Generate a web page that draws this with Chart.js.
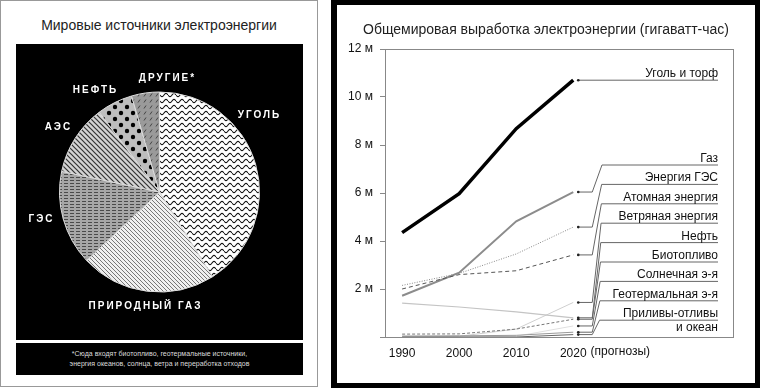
<!DOCTYPE html>
<html>
<head>
<meta charset="utf-8">
<script src="https://cdn.jsdelivr.net/npm/chart.js@4.4.1/dist/chart.umd.min.js"></script>
<style>
  body { margin: 0; width: 760px; height: 388px; position: relative; overflow: hidden; background: #fff; font-family: "Liberation Sans", Arial, sans-serif; }
  #left { position: absolute; left: 0; top: 0; width: 318px; height: 387px; box-sizing: border-box; border: 1px solid #999; background: #fff; }
  #leftTitle { position: absolute; left: 0; top: 16px; width: 316px; text-align: center; font-size: 14px; color: #222; }
  #pieBox { position: absolute; left: 15px; top: 43px; width: 287px; height: 296px; background: #000; }
  #note { position: absolute; left: 15px; top: 342px; width: 287px; height: 32px; background: #000; color: #ddd; font-size: 7px; line-height: 10px; text-align: center; padding-top: 6px; box-sizing: border-box; }
  #right { position: absolute; left: 331px; top: 0; width: 429px; height: 388px; background: #000; }
  #lineBox { position: absolute; left: 6px; top: 5px; width: 418px; height: 378px; background: #fff; }
</style>
</head>
<body>
<div id="left">
  <div id="leftTitle">Мировые источники электроэнергии</div>
  <div id="pieBox"><canvas id="pie" width="287" height="296"></canvas></div>
  <div id="note">*Сюда входят биотопливо, геотермальные источники,<br>энергия океанов, солнца, ветра и переработка отходов</div>
</div>
<div id="right">
  <div id="lineBox"><canvas id="line" width="418" height="378"></canvas></div>
</div>
<script>
// pie: shares of world electricity, %
var pieLabels = ['УГОЛЬ', 'ПРИРОДНЫЙ ГАЗ', 'ГЭС', 'АЭС', 'НЕФТЬ', 'ДРУГИЕ*'];
var pieShares = [41.1, 21.9, 15.3, 11.4, 5.8, 4.5];

// line chart: world generation, millions of GWh
var chartTitle = 'Общемировая выработка электроэнергии (гигаватт-час)';
var years = [1990, 2000, 2010, 2020];
var seriesNames = ['Уголь и торф', 'Газ', 'Энергия ГЭС', 'Атомная энергия', 'Ветряная энергия',
  'Нефть', 'Биотопливо', 'Солнечная э-я', 'Геотермальная э-я', 'Приливы-отливы и океан'];
var coal = [4.35, 5.97, 8.68, 10.7];
var gas = [1.72, 2.68, 4.82, 6.04];
var hydro = [2.15, 2.65, 3.46, 4.58];
var nuclear = [2.0, 2.6, 2.76, 3.42];
var wind = [0.0, 0.03, 0.33, 1.44];
var oil = [1.41, 1.25, 1.05, 0.8];
var biofuel = [0.12, 0.13, 0.33, 0.74];
var solar = [0.0, 0.0, 0.03, 0.46];
var geothermal = [0.04, 0.05, 0.07, 0.2];
var tidal = [0.0, 0.0, 0.0, 0.1];

function makePattern(w, h, bg, draw) {
  var c = document.createElement('canvas');
  c.width = w; c.height = h;
  var x = c.getContext('2d');
  x.fillStyle = bg;
  x.fillRect(0, 0, w, h);
  draw(x, w, h);
  return x.createPattern(c, 'repeat');
}

function diag(x, w, h) {
  x.beginPath();
  x.moveTo(-1, -1); x.lineTo(w + 1, h + 1);
  x.moveTo(-1, h - 1); x.lineTo(1, h + 1);
  x.moveTo(w - 1, -1); x.lineTo(w + 1, 1);
  x.stroke();
}

var patterns = [
  makePattern(8, 6, '#fff', function (x) {
    x.strokeStyle = '#111'; x.lineWidth = 1.1;
    x.beginPath();
    for (var i = 0; i <= 8; i += 0.5) {
      var y = 3 + 1.6 * Math.sin(i / 8 * Math.PI * 2);
      if (i === 0) x.moveTo(i, y); else x.lineTo(i, y);
    }
    x.stroke();
  }),
  makePattern(4, 4, '#f0f0f0', function (x, w, h) {
    x.strokeStyle = '#777'; x.lineWidth = 1; diag(x, w, h);
  }),
  makePattern(6, 3, '#a6a6a6', function (x) {
    x.fillStyle = '#4a4a4a'; x.fillRect(0, 1, 4, 1);
  }),
  makePattern(5, 5, '#d4d4d4', function (x, w, h) {
    x.strokeStyle = '#333'; x.lineWidth = 1.2; diag(x, w, h);
  }),
  makePattern(12, 12, '#bdbdbd', function (x) {
    x.fillStyle = '#000';
    x.beginPath(); x.arc(3, 3, 2.2, 0, Math.PI * 2); x.fill();
    x.beginPath(); x.arc(9, 9, 2.2, 0, Math.PI * 2); x.fill();
  }),
  makePattern(6, 6, '#9a9a9a', function (x) {
    x.strokeStyle = '#444'; x.lineWidth = 1;
    x.beginPath(); x.moveTo(2, 4.5); x.lineTo(4, 1.5); x.stroke();
  })
];

// label offsets from pie centre
var pieLabelPos = [[99, -77], [-15, 114], [-119, 27], [-102, -65], [-65, -102], [7, -114]];

new Chart(document.getElementById('pie'), {
  type: 'pie',
  data: {
    labels: pieLabels,
    datasets: [{
      data: pieShares,
      backgroundColor: patterns,
      borderColor: '#ddd',
      borderWidth: 1,
      radius: 100
    }]
  },
  options: {
    responsive: false,
    animation: false,
    events: [],
    plugins: { legend: { display: false }, tooltip: { enabled: false } }
  },
  plugins: [{
    id: 'pieText',
    afterDraw: function (chart) {
      var arc = chart.getDatasetMeta(0).data[0];
      var ctx = chart.ctx;
      ctx.save();
      ctx.fillStyle = '#fff';
      ctx.font = 'bold 10px "Liberation Sans", Arial, sans-serif';
      ctx.letterSpacing = '2px';
      ctx.textAlign = 'center';
      ctx.textBaseline = 'middle';
      pieLabels.forEach(function (t, i) {
        ctx.fillText(t, arc.x + pieLabelPos[i][0] + 1, arc.y + pieLabelPos[i][1]);
      });
      ctx.restore();
    }
  }]
});

var styles = [
  { c: '#000', w: 3.5, d: [] },
  { c: '#8c8c8c', w: 2, d: [] },
  { c: '#888', w: 1, d: [1, 1.5] },
  { c: '#555', w: 1, d: [4, 3] },
  { c: '#cfcfcf', w: 1, d: [] },
  { c: '#c4c4c4', w: 1.2, d: [] },
  { c: '#777', w: 1, d: [3, 2] },
  { c: '#e0e0e0', w: 1, d: [] },
  { c: '#999', w: 1, d: [] },
  { c: '#666', w: 1, d: [] }
];
var allSeries = [coal, gas, hydro, nuclear, wind, oil, biofuel, solar, geothermal, tidal];

var datasets = allSeries.map(function (s, i) {
  return {
    label: seriesNames[i],
    data: s.map(function (v, j) { return { x: years[j], y: v }; }),
    borderColor: styles[i].c,
    borderWidth: styles[i].w,
    borderDash: styles[i].d,
    pointRadius: 0,
    tension: 0,
    fill: false,
    order: -i
  };
});

var FONT = '"Liberation Sans", Arial, sans-serif';

new Chart(document.getElementById('line'), {
  type: 'line',
  data: { datasets: datasets },
  options: {
    responsive: false,
    animation: false,
    events: [],
    layout: { padding: { left: 0, right: 22, top: 44, bottom: 0 } },
    plugins: {
      legend: { display: false },
      tooltip: { enabled: false }
    },
    scales: {
      x: {
        type: 'linear',
        min: 1987,
        max: 2048,
        afterBuildTicks: function (s) { s.ticks = years.map(function (v) { return { value: v }; }); },
        afterFit: function (s) { s.height = 46; },
        grid: { display: false, drawTicks: false },
        border: { display: true, color: '#888' },
        ticks: {
          color: '#111',
          padding: 9,
          maxRotation: 0,
          autoSkip: false,
          font: { family: FONT, size: 12 },
          callback: function (v) { return String(v); }
        }
      },
      y: {
        min: 0,
        max: 12,
        afterFit: function (s) { s.width = 48; },
        grid: { drawOnChartArea: false, drawTicks: true, tickLength: 5, color: '#888' },
        border: { display: true, color: '#888' },
        ticks: {
          stepSize: 2,
          color: '#111',
          padding: 7,
          font: { family: FONT, size: 12 },
          callback: function (v) { return v === 0 ? '' : v + ' м'; }
        }
      }
    }
  },
  plugins: [{
    id: 'labelsAndFrame',
    afterDraw: function (chart) {
      var ctx = chart.ctx;
      var a = chart.chartArea;
      var xs = chart.scales.x;
      ctx.save();
      // title, centred on the white panel
      ctx.font = '14px ' + FONT;
      ctx.fillStyle = '#222';
      ctx.textAlign = 'center';
      ctx.textBaseline = 'middle';
      ctx.fillText(chartTitle, chart.width / 2, 25);

      // frame
      ctx.strokeStyle = '#888';
      ctx.lineWidth = 1;
      ctx.strokeRect(Math.round(a.left) + 0.5, Math.round(a.top) + 0.5, Math.round(a.right - a.left), Math.round(a.bottom - a.top));

      // "(прогнозы)" after last tick
      ctx.font = '12px ' + FONT;
      ctx.fillStyle = '#111';
      ctx.textBaseline = 'top';
      ctx.textAlign = 'left';
      var lx = xs.getPixelForValue(years[3]);
      ctx.fillText('(прогнозы)', lx + ctx.measureText('2020').width / 2 + 4, xs.top + 9);

      // connectors and series labels
      var endX = a.right - 15;
      chart.data.datasets.forEach(function (ds, i) {
        var pt = chart.getDatasetMeta(i).data[3];
        var px = pt.x, py = pt.y;
        var ly = i === 0 ? py : a.top + 116 + (i - 1) * 19.4;
        ctx.strokeStyle = '#666';
        ctx.lineWidth = 1;
        ctx.setLineDash([]);
        ctx.beginPath();
        ctx.moveTo(px + 4, py);
        if (i > 0) {
          ctx.lineTo(px + 19, py);
          ctx.lineTo(px + 29 - Math.min(i, 9) * 0.3, ly);
        }
        ctx.lineTo(endX, ly);
        ctx.stroke();
        ctx.fillStyle = '#222';
        ctx.beginPath();
        ctx.arc(px + 5, py, 1.3, 0, Math.PI * 2);
        ctx.fill();

        ctx.fillStyle = '#111';
        ctx.textAlign = 'right';
        ctx.textBaseline = 'alphabetic';
        if (i === 9) {
          ctx.fillText('Приливы-отливы', endX, ly - 3);
          ctx.textBaseline = 'top';
          ctx.fillText('и океан', endX, ly + 1);
        } else {
          ctx.fillText(ds.label, endX, ly - 3);
        }
      });
      ctx.restore();
    }
  }]
});
</script>
</body>
</html>
